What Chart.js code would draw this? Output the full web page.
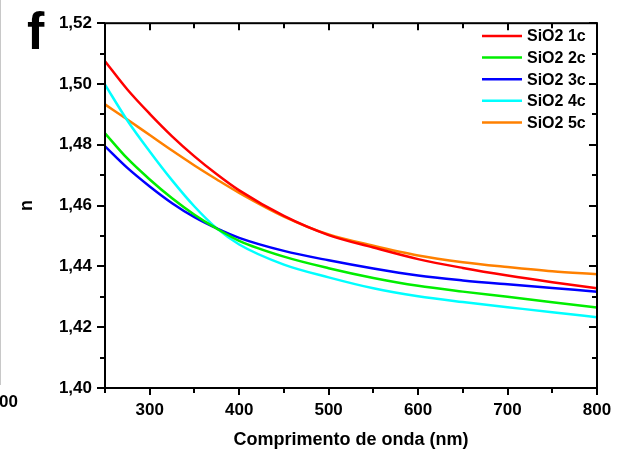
<!DOCTYPE html>
<html>
<head>
<meta charset="utf-8">
<script src="https://cdn.jsdelivr.net/npm/chart.js@4.4.1/dist/chart.umd.min.js"></script>
<style>
  html, body { margin: 0; padding: 0; background: #fff; overflow: hidden; }
  #wrap { position: relative; width: 625px; height: 455px; }
  #panel { position: absolute; left: 27px; top: 1px; font: bold 52px "Liberation Sans", Arial, sans-serif; color: #000; }
  #edge { position: absolute; left: 0; top: 0; width: 1px; height: 385px; background: #c8c8c8; }
  #prev { position: absolute; left: -1px; top: 392px; font: bold 17px "Liberation Sans", Arial, sans-serif; }
</style>
</head>
<body>
<div id="wrap">
  <canvas id="chart" width="625" height="455"></canvas>
  <div id="edge"></div>
  <div id="prev">00</div>
  <div id="panel">f</div>
</div>
<script>
// wavelength (nm) where the curves were read
const wavelengths = [250, 275, 300, 325, 350, 375, 400, 450, 500, 550, 600, 650, 700, 750, 800];

// refractive index per sample
const sio2_1c = [1.5075, 1.4982, 1.4902, 1.4828, 1.4762, 1.4703, 1.4650, 1.4566, 1.4503, 1.4462, 1.4424, 1.4395, 1.4370, 1.4348, 1.4328];
const sio2_2c = [1.4838, 1.4755, 1.4686, 1.4624, 1.4570, 1.4524, 1.4484, 1.4432, 1.4394, 1.4362, 1.4336, 1.4317, 1.4300, 1.4282, 1.4265];
const sio2_3c = [1.4795, 1.4724, 1.4663, 1.4608, 1.4562, 1.4525, 1.4494, 1.4451, 1.4420, 1.4393, 1.4370, 1.4354, 1.4341, 1.4329, 1.4317];
const sio2_4c = [1.4998, 1.4880, 1.4778, 1.4683, 1.4597, 1.4525, 1.4472, 1.4406, 1.4364, 1.4328, 1.4302, 1.4283, 1.4266, 1.4249, 1.4233];
const sio2_5c = [1.4933, 1.4883, 1.4832, 1.4781, 1.4732, 1.4686, 1.4642, 1.4564, 1.4505, 1.4468, 1.4436, 1.4414, 1.4398, 1.4384, 1.4374];

const seriesNames = ['SiO2 1c', 'SiO2 2c', 'SiO2 3c', 'SiO2 4c', 'SiO2 5c'];
const seriesColors = ['#ff0000', '#00ee00', '#0000ff', '#00ffff', '#ff8000'];

const xTicks = [300, 400, 500, 600, 700, 800];
const yTicks = [1.40, 1.42, 1.44, 1.46, 1.48, 1.50, 1.52];

const FONT = '"Liberation Sans", Arial, sans-serif';

function toPoints(values) {
    return values.map((v, i) => ({ x: wavelengths[i], y: v }));
}

const allSeries = [sio2_1c, sio2_2c, sio2_3c, sio2_4c, sio2_5c];

// box around the plot with ticks on all four sides (outward left/bottom, inward top/right)
const framePlugin = {
    id: 'frame',
    afterDatasetsDraw(chart) {
        const { ctx, chartArea: a, scales } = chart;
        ctx.save();
        ctx.strokeStyle = '#000';
        ctx.lineWidth = 2;
        ctx.strokeRect(a.left, a.top, a.right - a.left, a.bottom - a.top);
        ctx.beginPath();
        for (let v = 250; v <= 800; v += 50) {
            const px = Math.round(scales.x.getPixelForValue(v));
            const len = v % 100 === 0 ? 7 : 5;
            ctx.moveTo(px, a.bottom); ctx.lineTo(px, a.bottom + len);
            ctx.moveTo(px, a.top); ctx.lineTo(px, a.top + len);
        }
        for (let i = 0; i <= 12; i++) {
            const v = 1.40 + i * 0.01;
            const py = Math.round(scales.y.getPixelForValue(v));
            const len = i % 2 === 0 ? 8 : 5;
            ctx.moveTo(a.left - len, py); ctx.lineTo(a.left, py);
            ctx.moveTo(a.right, py); ctx.lineTo(a.right - len, py);
        }
        ctx.stroke();
        ctx.restore();
    }
};

// legend in the upper right corner of the plot
const legendPlugin = {
    id: 'boxLegend',
    afterDraw(chart) {
        const ctx = chart.ctx;
        ctx.save();
        ctx.font = 'bold 16px ' + FONT;
        ctx.textBaseline = 'middle';
        chart.data.datasets.forEach((ds, i) => {
            const y = 36 + i * 21.6;
            ctx.strokeStyle = ds.borderColor;
            ctx.lineWidth = 2.5;
            ctx.beginPath();
            ctx.moveTo(482, y);
            ctx.lineTo(522, y);
            ctx.stroke();
            ctx.fillStyle = '#000';
            ctx.fillText(ds.label, 527, y + 1);
        });
        ctx.restore();
    }
};

new Chart(document.getElementById('chart'), {
    type: 'line',
    data: {
        datasets: allSeries.map((vals, i) => ({
            label: seriesNames[i],
            data: toPoints(vals),
            borderColor: seriesColors[i],
            backgroundColor: seriesColors[i],
            borderWidth: 2.5,
            pointRadius: 0,
            cubicInterpolationMode: 'monotone',
            fill: false
        }))
    },
    options: {
        responsive: false,
        animation: false,
        layout: { padding: { left: 0, top: 20, right: 28, bottom: 0 } },
        plugins: {
            legend: { display: false },
            tooltip: { enabled: false }
        },
        scales: {
            x: {
                type: 'linear',
                min: 250,
                max: 800,
                afterBuildTicks: s => { s.ticks = xTicks.map(v => ({ value: v })); },
                afterFit: s => { s.height = 67; },
                grid: { display: false, drawTicks: false },
                border: { display: false },
                ticks: {
                    color: '#000',
                    padding: 12,
                    maxRotation: 0,
                    font: { family: FONT, size: 17, weight: 'bold' }
                },
                title: {
                    display: true,
                    text: 'Comprimento de onda (nm)',
                    color: '#000',
                    padding: { top: 0, bottom: 4 },
                    font: { family: FONT, size: 18, weight: 'bold' }
                }
            },
            y: {
                type: 'linear',
                min: 1.40,
                max: 1.52,
                afterBuildTicks: s => { s.ticks = yTicks.map(v => ({ value: v })); },
                afterFit: s => { s.width = 105; },
                grid: { display: false, drawTicks: false },
                border: { display: false },
                ticks: {
                    color: '#000',
                    padding: 13,
                    font: { family: FONT, size: 17, weight: 'bold' },
                    callback: v => v.toFixed(2).replace('.', ',')
                },
                title: {
                    display: true,
                    text: 'n',
                    color: '#000',
                    padding: { top: 16, bottom: 0 },
                    font: { family: FONT, size: 18, weight: 'bold' }
                }
            }
        }
    },
    plugins: [framePlugin, legendPlugin]
});
</script>
</body>
</html>
